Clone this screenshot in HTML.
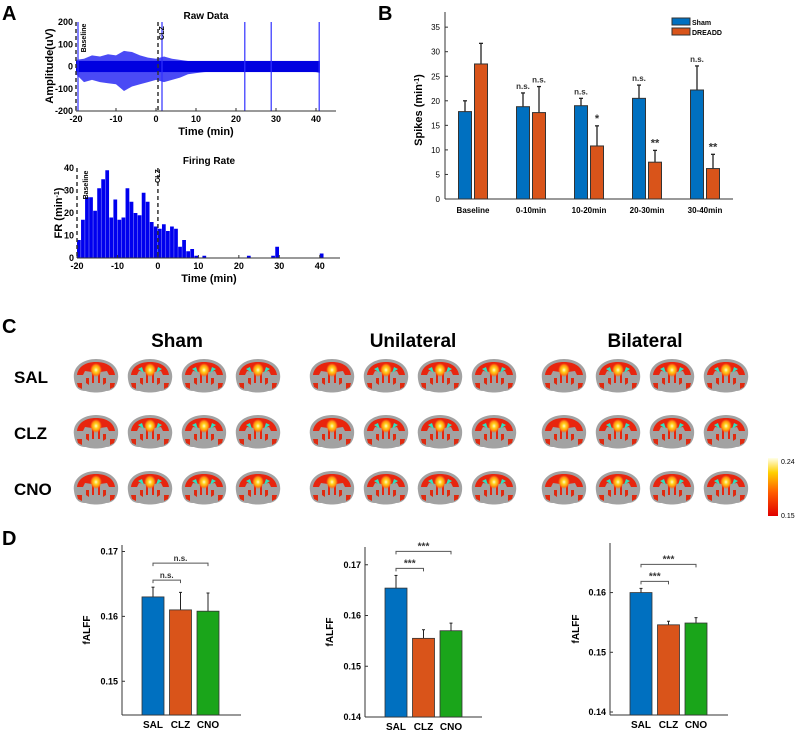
<!DOCTYPE html>
<html><head><meta charset="utf-8"><style>
html,body{margin:0;padding:0;background:#fff;}
svg{display:block;font-family:"Liberation Sans",Arial,sans-serif;font-weight:bold;}
</style></head><body>
<svg id="fig" width="800" height="733" viewBox="0 0 800 733" xmlns="http://www.w3.org/2000/svg">
<defs>
<radialGradient id="hot" cx="50%" cy="50%" r="50%"><stop offset="0" stop-color="#fffbd0"/><stop offset="0.35" stop-color="#ffd21e"/><stop offset="0.7" stop-color="#ff8a10"/><stop offset="1" stop-color="#ff5a10" stop-opacity="0"/></radialGradient>
<linearGradient id="cbar" x1="0" y1="1" x2="0" y2="0"><stop offset="0" stop-color="#e00000"/><stop offset="0.4" stop-color="#ff5a00"/><stop offset="0.75" stop-color="#ffd000"/><stop offset="1" stop-color="#ffffe8"/></linearGradient>
<g id="brain">
<path d="M2,22 C0,9 12,2 24,2 C36,2 48,9 46,22 C45,30 40,34 34,34 C30,36 18,36 14,34 C6,34 3,30 2,22Z" fill="#a2a2a2"/>
<path d="M5,18 C6,10 13,5 24,5 C35,5 42,10 43,18 L37,18 L35,14 L28,15 L28,26 L26,26 L26,16 L22,16 L22,26 L20,26 L20,15 L13,14 L11,18Z" fill="#e8250e"/>
<path d="M5,26 L10,26 L10,32 L6,30Z M38,26 L43,26 L42,30 L38,32Z M14,21 L17,21 L17,28 L14,26Z M31,21 L34,21 L34,26 L31,28Z" fill="#e02a10"/>
<ellipse cx="24" cy="13" rx="6" ry="7" fill="url(#hot)"/>
</g>
</defs>

<text x="2" y="20" font-size="20">A</text>
<text x="378" y="20" font-size="20">B</text>
<text x="2" y="333" font-size="20">C</text>
<text x="2" y="545" font-size="20">D</text>

<g id="rawPlot"></g>
<g id="frPlot"></g>
<g id="bPlot"></g>
<g id="cPanel"></g>
<g id="dPlots"></g>
</svg>
<script>
// ===== Panel A raw data =====
const rawMinutes = [-20,-18,-16,-14,-12,-10,-8,-6,-4,-2,0,2,4,6,8,10,12,15,20,25,30,35,40,41];
const rawUpper =   [30,35,50,45,55,50,70,65,50,40,35,45,35,30,25,22,20,18,18,18,18,18,20,25];
const rawLower =   [-35,-70,-60,-70,-75,-80,-110,-90,-80,-70,-60,-70,-60,-50,-35,-30,-25,-22,-22,-22,-22,-22,-25,-30];
const rawSpikeTimes = [-19.5,1.5,22.2,28.8,40.8];
const rawXTicks = [-20,-10,0,10,20,30,40];
const rawYTicks = [-200,-100,0,100,200];

// ===== Panel A firing rate =====
const frBinStarts = [];
for (let t=-20;t<11;t++) frBinStarts.push(t);
const frValues = [8,17,27,27,21,31,35,39,18,26,17,18,31,25,20,19,29,25,16,14,13,15,12,14,13,5,8,3,4,1,0];
const frExtraTimes = [11,22,28,29,40];
const frExtraValues = [1,1,1,5,2];
const frXTicks = [-20,-10,0,10,20,30,40];
const frYTicks = [0,10,20,30,40];

// ===== Panel B =====
const bCategories = ["Baseline","0-10min","10-20min","20-30min","30-40min"];
const bSham = [17.8,18.8,19.0,20.5,22.2];
const bShamErr = [2.2,2.8,1.5,2.7,4.9];
const bDreadd = [27.5,17.6,10.8,7.5,6.2];
const bDreaddErr = [4.2,5.3,4.1,2.4,2.9];
const bShamSig = ["","n.s.","n.s.","n.s.","n.s."];
const bDreaddSig = ["","n.s.","*","**","**"];
const bYTicks = [0,5,10,15,20,25,30,35];

// ===== Panel D =====
const dGroups = ["SAL","CLZ","CNO"];
const dSham = [0.1630,0.1610,0.1608];
const dShamErr = [0.0015,0.0027,0.0028];
const dUni = [0.1654,0.1555,0.1570];
const dUniErr = [0.0025,0.0017,0.0015];
const dBi = [0.1600,0.1546,0.1549];
const dBiErr = [0.0007,0.0006,0.0009];
const dSigSham = ["n.s.","n.s."];
const dSigUni = ["***","***"];
const dSigBi = ["***","***"];

const NS="http://www.w3.org/2000/svg";
function mk(parent,tag,attrs,text){const e=document.createElementNS(NS,tag);for(const k in attrs)e.setAttribute(k,attrs[k]);if(text!==undefined)e.textContent=text;parent.appendChild(e);return e;}

// ---------- Raw data ----------
(function(){
 const g=document.getElementById('rawPlot');
 const x0=76,x1=336,y0=111,y1=22;
 const sx=t=>x0+(t+20)/65*(x1-x0);
 const sy=v=>y0-(v+200)/400*(y0-y1);
 let pts=rawMinutes.map((t,i)=>sx(t)+','+sy(rawUpper[i]));
 for(let i=rawMinutes.length-1;i>=0;i--)pts.push(sx(rawMinutes[i])+','+sy(rawLower[i]));
 let env=mk(g,'polygon',{points:pts.join(' '),fill:'#4a4af5'});
 
 
 let core=mk(g,'rect',{x:sx(-20),y:sy(25),width:sx(41)-sx(-20),height:sy(-25)-sy(25),fill:'#0000e0'});
 
 
 rawSpikeTimes.forEach(t=>{const l=mk(g,'line',{x1:sx(t),x2:sx(t),y1:sy(200),y2:sy(-200),stroke:'#3030ff','stroke-width':1.2});
  
  });
 mk(g,'line',{x1:sx(0.5),x2:sx(0.5),y1:y1,y2:y0,stroke:'#333','stroke-width':1.5,'stroke-dasharray':'4,3'});
 mk(g,'line',{x1:x0,x2:x0,y1:y1,y2:y0,stroke:'#333','stroke-width':1.5,'stroke-dasharray':'4,3'});
 mk(g,'line',{x1:x0,x2:x1,y1:y0,y2:y0,stroke:'#333'});
 rawXTicks.forEach(t=>{mk(g,'line',{x1:sx(t),x2:sx(t),y1:y0,y2:y0-3,stroke:'#333'});
  const tl=mk(g,'text',{x:sx(t),y:y0+11,'font-size':9,'text-anchor':'middle'},t);
  
  });
 rawYTicks.forEach(v=>{const tl=mk(g,'text',{x:x0-3,y:sy(v)+3,'font-size':9,'text-anchor':'end'},v);
  
  });
 mk(g,'text',{x:206,y:19,'font-size':10,'text-anchor':'middle'},'Raw Data');
 mk(g,'text',{x:206,y:135,'font-size':11,'text-anchor':'middle'},'Time (min)');
 mk(g,'text',{x:53,y:66,'font-size':11,'text-anchor':'middle',transform:'rotate(-90 53 66)'},'Amplitude(uV)');
 mk(g,'text',{x:86,y:38,'font-size':7,'text-anchor':'middle',transform:'rotate(-90 86 38)'},'Baseline');
 mk(g,'text',{x:164,y:33,'font-size':7,'text-anchor':'middle',transform:'rotate(-90 164 33)'},'CLZ');
})();

// ---------- Firing rate ----------
(function(){
 const g=document.getElementById('frPlot');
 const x0=77,x1=340,y0=258,y1=168;
 const sx=t=>x0+(t+20)/65*(x1-x0);
 const sy=v=>y0-v/40*(y0-y1);
 frBinStarts.forEach((t,i)=>{const r=mk(g,'rect',{x:sx(t),y:sy(frValues[i]),width:sx(t+1)-sx(t)-0.3,height:y0-sy(frValues[i]),fill:'#0000ee'});
  
  });
 frExtraTimes.forEach((t,i)=>{const r=mk(g,'rect',{x:sx(t),y:sy(frExtraValues[i]),width:sx(t+1)-sx(t)-0.3,height:y0-sy(frExtraValues[i]),fill:'#0000ee'});
  
  });
 mk(g,'line',{x1:sx(0),x2:sx(0),y1:y1,y2:y0,stroke:'#333','stroke-width':1.5,'stroke-dasharray':'4,3'});
 mk(g,'line',{x1:x0,x2:x0,y1:y1,y2:y0,stroke:'#333','stroke-width':1.5,'stroke-dasharray':'4,3'});
 mk(g,'line',{x1:x0,x2:x1,y1:y0,y2:y0,stroke:'#333'});
 frXTicks.forEach(t=>{mk(g,'line',{x1:sx(t),x2:sx(t),y1:y0,y2:y0-3,stroke:'#333'});
  const tl=mk(g,'text',{x:sx(t),y:y0+11,'font-size':9,'text-anchor':'middle'},t);
  
  });
 frYTicks.forEach(v=>{const tl=mk(g,'text',{x:x0-3,y:sy(v)+3,'font-size':9,'text-anchor':'end'},v);
  
  });
 mk(g,'text',{x:209,y:164,'font-size':10,'text-anchor':'middle'},'Firing Rate');
 mk(g,'text',{x:209,y:282,'font-size':11,'text-anchor':'middle'},'Time (min)');
 const yl=mk(g,'text',{x:62,y:213,'font-size':11,'text-anchor':'middle',transform:'rotate(-90 62 213)'});
 yl.innerHTML='FR (min<tspan baseline-shift="super" font-size="7">-1</tspan>)';
 mk(g,'text',{x:88,y:185,'font-size':7,'text-anchor':'middle',transform:'rotate(-90 88 185)'},'Baseline');
 mk(g,'text',{x:160,y:176,'font-size':7,'text-anchor':'middle',transform:'rotate(-90 160 176)'},'CLZ');
})();

// ---------- Panel B ----------
(function(){
 const g=document.getElementById('bPlot');
 const x0=445,x1=733,y0=199,yTop=12;
 const sy=v=>y0-v*4.91;
 const cx=i=>473+i*58;
 const bw=13;
 mk(g,'line',{x1:x0,x2:x0,y1:yTop,y2:y0,stroke:'#333'});
 mk(g,'line',{x1:x0,x2:x1,y1:y0,y2:y0,stroke:'#333'});
 bYTicks.forEach(v=>{mk(g,'line',{x1:x0,x2:x0+3,y1:sy(v),y2:sy(v),stroke:'#333'});
  const tl=mk(g,'text',{x:x0-5,y:sy(v)+3,'font-size':8,'text-anchor':'end','font-weight':'normal'},v);
  
  });
 bCategories.forEach((c,i)=>{
  const tl=mk(g,'text',{x:cx(i),y:y0+14,'font-size':8,'text-anchor':'middle'},c);
  
  
  [[bSham,bShamErr,'#0070c0',-8,bShamSig],[bDreadd,bDreaddErr,'#d9541a',8,bDreaddSig]].forEach(([vals,errs,col,off,sig])=>{
   const x=cx(i)+off;
   mk(g,'line',{x1:x,x2:x,y1:sy(vals[i]),y2:sy(vals[i]+errs[i]),stroke:'#222','stroke-width':1.3});
   mk(g,'line',{x1:x-2,x2:x+2,y1:sy(vals[i]+errs[i]),y2:sy(vals[i]+errs[i]),stroke:'#222','stroke-width':1.3});
   const r=mk(g,'rect',{x:x-bw/2,y:sy(vals[i]),width:bw,height:y0-sy(vals[i]),fill:col,stroke:'#333','stroke-width':1});
   
   
   if(sig[i]){const s=mk(g,'text',{x:x,y:sy(vals[i]+errs[i])-4,'font-size':sig[i].indexOf('*')>=0?11:8,'text-anchor':'middle','fill':'#333'},sig[i]);
    
    }
  });
 });
 const yl=mk(g,'text',{x:422,y:110,'font-size':11,'text-anchor':'middle',transform:'rotate(-90 422 110)'});
 yl.innerHTML='Spikes (min<tspan baseline-shift="super" font-size="7">-1</tspan>)';
 const lg=mk(g,'g',{});
 
 
 mk(lg,'rect',{x:672,y:18,width:18,height:7,fill:'#0070c0',stroke:'#333'});
 mk(lg,'text',{x:692,y:25,'font-size':7},'Sham');
 mk(lg,'rect',{x:672,y:28,width:18,height:7,fill:'#d9541a',stroke:'#333'});
 mk(lg,'text',{x:692,y:35,'font-size':7},'DREADD');
})();

// ---------- Panel C ----------
(function(){
 const g=document.getElementById('cPanel');
 const groupX=[72,308,540];
 const groupNames=["Sham","Unilateral","Bilateral"];
 const rowNames=["SAL","CLZ","CNO"];
 const rowY=[357,413,469];
 groupNames.forEach((n,gi)=>{const t=mk(g,'text',{x:groupX[gi]+105,y:347,'font-size':19,'text-anchor':'middle'},n);
  
  });
 rowNames.forEach((n,ri)=>{const t=mk(g,'text',{x:14,y:rowY[ri]+26,'font-size':17},n);
  
  });
 rowY.forEach(y=>groupX.forEach(gx=>{for(let k=0;k<4;k++){
  const u=mk(g,'use',{href:'#brain',x:gx+k*54,y:y});
  
  
  if(k>0){mk(g,'path',{d:`M${gx+k*54+12},${y+12} l6,4 l-2,-6Z M${gx+k*54+36},${y+12} l-6,4 l2,-6Z`,fill:'#30e0c0'});}
 }}));
 const cb=mk(g,'rect',{x:768,y:458,width:10,height:58,fill:'url(#cbar)'});
 
 
 mk(g,'text',{x:781,y:464,'font-size':7,'font-weight':'normal'},'0.24');
 mk(g,'text',{x:781,y:518,'font-size':7,'font-weight':'normal'},'0.15');
})();

// ---------- Panel D ----------
(function(){
 const g=document.getElementById('dPlots');
 const cfg=[
  {vals:dSham,errs:dShamErr,sig:dSigSham,x0:122,x1:241,yTopPx:545,yBotPx:715,vTop:0.171,vBot:0.1448,ticks:[0.15,0.16,0.17],lbl:90},
  {vals:dUni,errs:dUniErr,sig:dSigUni,x0:365,x1:482,yTopPx:547,yBotPx:717,vTop:0.1735,vBot:0.14,ticks:[0.14,0.15,0.16,0.17],lbl:333},
  {vals:dBi,errs:dBiErr,sig:dSigBi,x0:610,x1:728,yTopPx:543,yBotPx:715,vTop:0.1683,vBot:0.1395,ticks:[0.14,0.15,0.16],lbl:579}
 ];
 const cols=['#0070c0','#d9541a','#1aa51a'];
 cfg.forEach(c=>{
  const sy=v=>c.yBotPx-(v-c.vBot)/(c.vTop-c.vBot)*(c.yBotPx-c.yTopPx);
  const cx=i=>c.x0+31+i*27.5;
  mk(g,'line',{x1:c.x0,x2:c.x0,y1:c.yTopPx,y2:c.yBotPx,stroke:'#333'});
  mk(g,'line',{x1:c.x0,x2:c.x1,y1:c.yBotPx,y2:c.yBotPx,stroke:'#333'});
  c.ticks.forEach(v=>{mk(g,'line',{x1:c.x0,x2:c.x0+3,y1:sy(v),y2:sy(v),stroke:'#333'});
   const tl=mk(g,'text',{x:c.x0-4,y:sy(v)+3,'font-size':9,'text-anchor':'end'},v.toFixed(2));
   
   });
  dGroups.forEach((n,i)=>{
   const x=cx(i);
   mk(g,'line',{x1:x,x2:x,y1:sy(c.vals[i]),y2:sy(c.vals[i]+c.errs[i]),stroke:'#222'});
   mk(g,'line',{x1:x-1.5,x2:x+1.5,y1:sy(c.vals[i]+c.errs[i]),y2:sy(c.vals[i]+c.errs[i]),stroke:'#222'});
   const r=mk(g,'rect',{x:x-11,y:sy(c.vals[i]),width:22,height:c.yBotPx-sy(c.vals[i]),fill:cols[i],stroke:'#333','stroke-width':0.8});
   
   
   const tl=mk(g,'text',{x:x,y:c.yBotPx+13,'font-size':10,'text-anchor':'middle'},n);
   
   
  });
  const my=(c.yTopPx+c.yBotPx)/2;
  mk(g,'text',{x:c.lbl,y:my,'font-size':10,'text-anchor':'middle',transform:`rotate(-90 ${c.lbl} ${my})`},'fALFF');
  const top=Math.max(...c.vals.map((v,i)=>v+c.errs[i]));
  const b1=sy(top)-7, b2=b1-17;
  [[1,b1,c.sig[0]],[2,b2,c.sig[1]]].forEach(([j,by,s])=>{
   mk(g,'path',{d:`M${cx(0)},${by+3} V${by} H${cx(j)} V${by+3}`,fill:'none',stroke:'#555','stroke-width':1});
   const st=mk(g,'text',{x:(cx(0)+cx(j))/2,y:by-2,'font-size':s==='n.s.'?8:10,'text-anchor':'middle','fill':'#333'},s);
   
   
  });
 });
})();
</script>
</body></html>
